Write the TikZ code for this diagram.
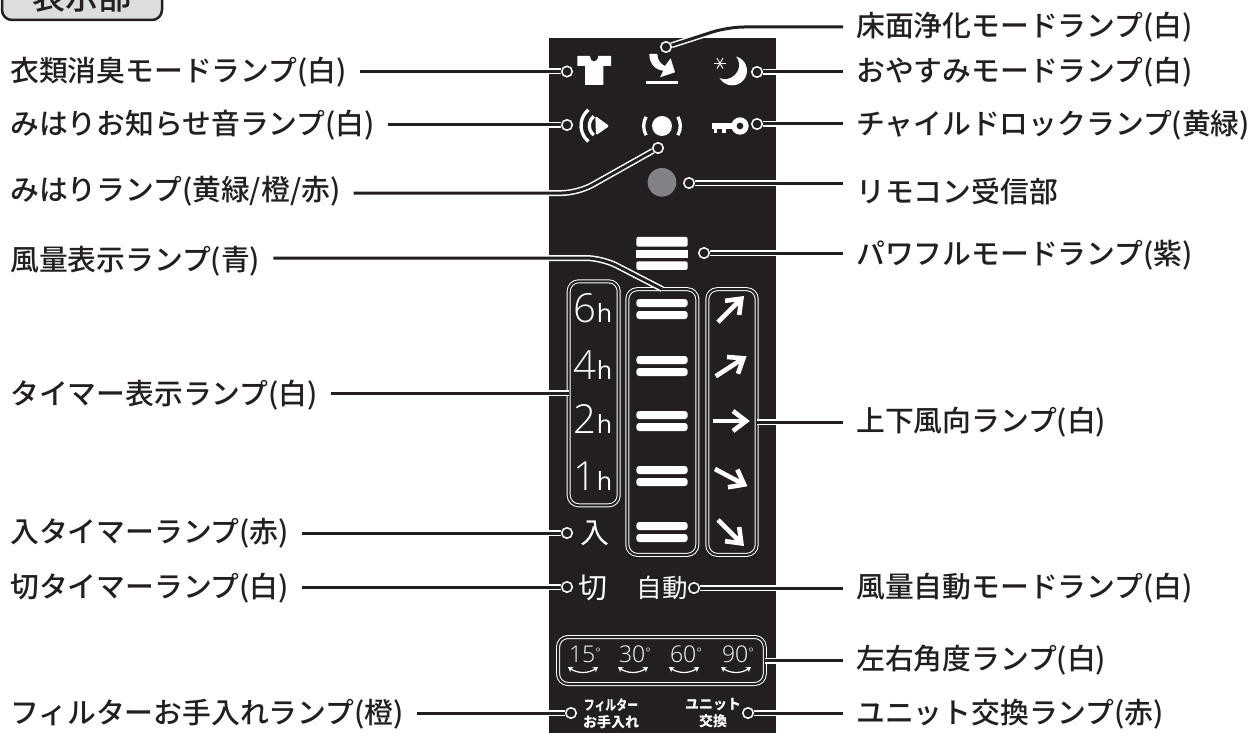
\documentclass[tikz,border=0pt]{standalone}
\usepackage{fontspec}
\setmainfont{Noto Sans CJK JP Medium}
\newfontfamily\panelfont{Noto Sans CJK JP}
\newfontfamily\thinfont{Open Sans Light}
\newfontfamily\hourfont{Open Sans}
\usetikzlibrary{shapes,shapes.geometric,calc,arrows.meta}
\definecolor{panel}{HTML}{231F20}
\definecolor{badgegray}{HTML}{DCDDDE}
\definecolor{sensorgray}{HTML}{808285}
\begin{document}
\begin{tikzpicture}[x=1pt,y=-1pt]
	\tikzstyle{partlabel}=[anchor=west,inner xsep=13pt,inner ysep=0pt,text=panel,font=\fontsize{28.8}{30}\selectfont]
	\tikzstyle{leader}=[draw=white,double=panel,double distance=3pt,line width=1.5pt,rounded corners=16pt]
	\tikzstyle{lampring}=[circle,draw=white,fill=panel,line width=1.5pt,inner sep=0pt,minimum size=10.5pt]
	\tikzstyle{lampbox}=[rectangle,rounded corners=10pt,draw=white,double=panel,double distance=2pt,line width=1pt,outer sep=0pt]
	\tikzstyle{panelword}=[text=white,inner sep=0pt]
	\tikzstyle{iconline}=[draw=white,line width=3.3pt]
	\useasboundingbox (0,0) rectangle (1258,733);
	\fill[panel] (549,38) rectangle (776,733);
	\node[rectangle,rounded corners=10pt,draw=panel,fill=badgegray,line width=2.5pt,minimum width=160pt,minimum height=46pt,inner sep=0pt,text=panel,font=\fontsize{33}{34}\selectfont] (badge) at (82,-3) {表示部};

	% labels
	\node[partlabel] (cloth) at (-3,72) {衣類消臭モードランプ(白)};
	\node[partlabel] (chime) at (-3,125) {みはりお知らせ音ランプ(白)};
	\node[partlabel] (watch) at (-3,191) {みはりランプ(黄緑/橙/赤)};
	\node[partlabel] (wind) at (-3,261) {風量表示ランプ(青)};
	\node[partlabel] (timer) at (-3,395) {タイマー表示ランプ(白)};
	\node[partlabel] (ontimer) at (-3,533) {入タイマーランプ(赤)};
	\node[partlabel] (offtimer) at (-3,588) {切タイマーランプ(白)};
	\node[partlabel] (filter) at (-3,714) {フィルターお手入れランプ(橙)};
	\node[partlabel] (floor) at (843,27) {床面浄化モードランプ(白)};
	\node[partlabel] (sleep) at (843,72) {おやすみモードランプ(白)};
	\node[partlabel] (lock) at (843,125) {チャイルドロックランプ(黄緑)};
	\node[partlabel] (remote) at (843,191) {リモコン受信部};
	\node[partlabel] (powerful) at (843,255) {パワフルモードランプ(紫)};
	\node[partlabel] (updown) at (843,422) {上下風向ランプ(白)};
	\node[partlabel] (autowind) at (843,588) {風量自動モードランプ(白)};
	\node[partlabel] (angle) at (843,660) {左右角度ランプ(白)};
	\node[partlabel] (unit) at (843,714) {ユニット交換ランプ(赤)};

	% lamp ends
	\node[lampring] (clothring) at (567,71.5) {};
	\node[lampring] (chimering) at (567,125) {};
	\node[lampring] (watchring) at (658,148) {};
	\node[lampring] (ontimerring) at (567,533) {};
	\node[lampring] (offtimerring) at (567,587) {};
	\node[lampring] (filterring) at (571,713) {};
	\node[lampring] (floorring) at (666,47) {};
	\node[lampring] (sleepring) at (757,72) {};
	\node[lampring] (lockring) at (757,124) {};
	\node[lampring] (remotering) at (689,183) {};
	\node[lampring] (powerfulring) at (704,253) {};
	\node[lampring] (autoring) at (694,588) {};
	\node[lampring] (unitring) at (748,713) {};

	\node[lampbox,minimum width=50pt,minimum height=224pt] (timerbox) at (593.7,393.3) {};
	\node[lampbox,minimum width=70pt,minimum height=265.7pt] (windbox) at (662.3,422) {};
	\node[lampbox,minimum width=49.4pt,minimum height=265.7pt] (dirbox) at (732,422) {};
	\node[lampbox,minimum width=206.7pt,minimum height=47pt] (anglebox) at (661.4,660.5) {};

	% connectors
	\coordinate (watchbend) at (578,193);
	\coordinate (windbend) at (602,258);
	\coordinate (floorbend) at (728,27);
	\draw[leader] (cloth.east |- clothring) -- (clothring);
	\draw[leader] (chime.east |- chimering) -- (chimering);
	\draw[leader] (watch.east |- watchbend) -- (watchbend) -- (watchring);
	\draw[leader] (wind.east |- windbend) -- (windbend) -- (windbox.north);
	\draw[leader] (timer.east |- timerbox) -- (timerbox.west);
	\draw[leader] (ontimer.east |- ontimerring) -- (ontimerring);
	\draw[leader] (offtimer.east |- offtimerring) -- (offtimerring);
	\draw[leader] (filter.east |- filterring) -- (filterring);
	\draw[leader] (floor.west |- floorbend) -- (floorbend) -- (floorring);
	\draw[leader] (sleep.west |- sleepring) -- (sleepring);
	\draw[leader] (lock.west |- lockring) -- (lockring);
	\draw[leader] (remote.west |- remotering) -- (remotering);
	\draw[leader] (powerful.west |- powerfulring) -- (powerfulring);
	\draw[leader] (updown.west |- dirbox) -- (dirbox.east);
	\draw[leader] (autowind.west |- autoring) -- (autoring);
	\draw[leader] (angle.west |- anglebox) -- (anglebox.east);
	\draw[leader] (unit.west |- unitring) -- (unitring);

	% top icons
	\begin{scope}[shift={(540,30)},x=.3333pt,y=-.3333pt]
		\fill[white] (112,78) -- (150,78) .. controls (152,100) and (172,100) .. (175,78) -- (213,78) -- (213,108) -- (190,108) -- (190,165) -- (135,165) -- (135,108) -- (112,108) -- cycle;
		\fill[white] (319,152) rectangle (414,163);
		\fill[white] (328,72) -- (352,72) .. controls (352,90) and (362,102) .. (375,108) -- (392,85) -- (405,127) -- (360,142) -- (370,122) .. controls (345,120) and (328,100) .. (328,72) -- cycle;
		\fill[white] (577,122) circle (44);
		\fill[panel] (555,105) circle (42);
		\foreach \a in {0,60,120}
			\draw[white,line width=.9pt] (540,100) ++(\a:18) -- ++(\a+180:36);
		\fill[white,rounded corners=2pt] (166,258) -- (208,288) -- (168,316) -- cycle;
		\draw[iconline] (185,287) ++(130:37) arc (130:230:37);
		\draw[iconline] (185,287) ++(130:62) arc (130:230:62);
		\fill[white] (366,288) circle (30);
		\draw[iconline] (366,288) ++(150:55) arc (150:210:55);
		\draw[iconline] (366,288) ++(-30:55) arc (-30:30:55);
		\fill[white] (515,280) rectangle (580,296);
		\fill[white] (522,296) rectangle (532,308);
		\fill[white] (545,296) rectangle (558,308);
		\fill[white] (600,288) circle (26);
		\fill[panel] (600,288) circle (10);
		\fill[sensorgray] (366,457) circle (43);
		\fill[white,rounded corners=2pt] (289,621) rectangle (443,650);
		\fill[white] (289,660) rectangle (443,684);
		\fill[white,rounded corners=2pt] (289,694) rectangle (443,720);
	\end{scope}

	% timer lamps
	\foreach \num/\y in {6/322,4/379,2/433.5,1/490}
		\node[panelword,anchor=base] (hour\num) at (593,\y) {\thinfont\fontsize{40}{40}\selectfont \num\hourfont\fontsize{25}{25}\selectfont h};

	% wind lamps
	\foreach \y in {309,366,421,476,532} {
		\fill[white,rounded corners=3pt] (636.3,\y-10) rectangle (687.7,\y-2);
		\fill[white,rounded corners=3pt] (636.3,\y+2) rectangle (687.7,\y+10);
	}

	% direction lamps
	\foreach \y/\a in {310/45,367/33,421/0,477/-28,532/-45} {
		\begin{scope}[shift={(730,\y)},rotate=\a]
			\draw[iconline,line width=4.6pt] (-17,0) -- (14,0);
			\draw[iconline,line width=4.6pt] (3,-10) -- (16,0) -- (3,10);
		\end{scope}
	}

	\node[panelword,font=\panelfont\fontsize{29}{29}\selectfont] (onword) at (595,533) {入};
	\node[panelword,font=\panelfont\fontsize{29}{29}\selectfont] (offword) at (593,588) {切};
	\node[panelword,font=\panelfont\fontsize{25.5}{26}\selectfont] (autoword) at (662,588) {自動};

	% angle lamps
	\foreach \deg/\x in {15/583,30/633,60/684,90/736} {
		\node[panelword,font=\thinfont\fontsize{23}{23}\selectfont] (deg\deg) at (\x+2,654) {\deg\raisebox{5pt}{\fontsize{13}{13}\selectfont °}};
		\draw[white,line width=1.2pt,{Stealth[length=5pt,width=6pt]}-{Stealth[length=5pt,width=6pt]}] (\x-15,667) to[bend right=35] (\x+15,667);
	}

	\node[panelword,align=center,font=\bfseries\fontsize{14}{17}\selectfont] (filterword) at (611,714) {\scalebox{.78}[1]{フィルター}\\お手入れ};
	\node[panelword,align=center,font=\bfseries\fontsize{14}{17}\selectfont] (unitword) at (713,713) {ユニット\\交換};
\end{tikzpicture}
\end{document}
